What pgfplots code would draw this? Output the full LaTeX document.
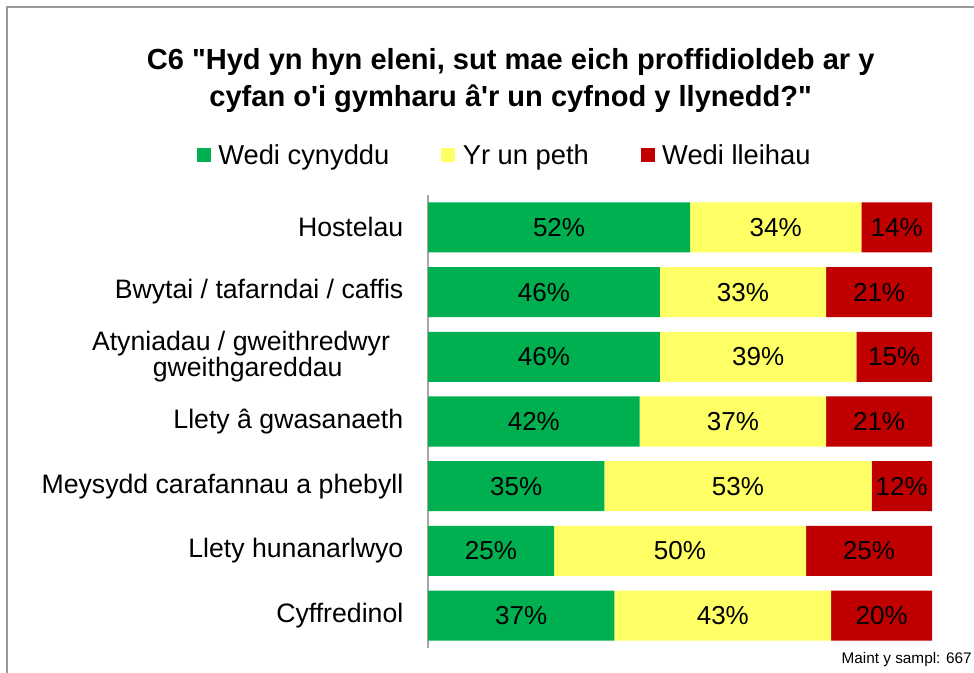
\documentclass[border=0pt]{standalone}
\usepackage{pgfplots}
\usepackage{pgfplotstable}
\pgfplotsset{compat=1.18}
\usepackage{fontspec}
\setmainfont{Liberation Sans}[Ligatures=TeXOff]
\definecolor{cgreen}{HTML}{00B050}
\definecolor{cyellow}{HTML}{FFFF66}
\definecolor{cred}{HTML}{C00000}
\pgfplotstableread{
idx up same down
0 52 34 14
1 46 33 21
2 46 39 15
3 42 37 21
4 35 53 12
5 25 50 25
6 37 43 20
}\data
\begin{document}
\begin{tikzpicture}
\useasboundingbox (0,0) rectangle (730.5pt,504.75pt);
\draw[gray!80, line width=0.9pt] (5.25pt,-1pt) -- (5.25pt,499.5pt) -- (731.5pt,499.5pt);
\node[align=center, font=\fontsize{21.8}{27.75}\selectfont\bfseries] at (383pt,444pt)
  {C6 "Hyd yn hyn eleni, sut mae eich proffidioldeb ar y\\cyfan o'i gymharu â'r un cyfnod y llynedd?"};
\node[anchor=east, inner sep=0pt, font=\fontsize{11.5}{13}\selectfont] at (729pt,9.75pt) {Maint y sampl: 667};
\begin{axis}[
  at={(321pt,18.75pt)}, anchor=south west,
  scale only axis, width=378pt, height=339.75pt,
  xbar stacked, bar width=37.5pt,
  xmin=0, xmax=100, ymin=-0.5, ymax=6.5, y dir=reverse,
  axis x line=none, axis y line*=left,
  y axis line style={gray!70, line width=0.8pt},
  ytick={0,...,6}, ytick style={draw=none},
  yticklabels={Hostelau, Bwytai / tafarndai / caffis, {Atyniadau / gweithredwyr\hspace*{10pt}\\gweithgareddau}, Llety â gwasanaeth, Meysydd carafannau a phebyll, Llety hunanarlwyo, Cyffredinol},
  yticklabel style={align=center, font=\fontsize{20}{19.2}\selectfont, xshift=-15pt},
  point meta=explicit symbolic,
  nodes near coords={\pgfplotspointmeta\%},
  every node near coord/.append style={anchor=center, font=\fontsize{19.5}{20}\selectfont, text=black},
  legend style={at={(0.153,1.088)}, anchor=center, draw=none, fill=none, legend columns=3,
    font=\fontsize{20.5}{22}\selectfont,
    /tikz/every even column/.append style={column sep=37pt},
    /tikz/every odd column/.append style={column sep=3.5pt}},
  legend image code/.code={\fill[#1] (0pt,-5pt) rectangle (10.5pt,5.5pt);},
]
\addplot[fill=cgreen, draw=none] table[x=up,y=idx,meta=up] {\data};
\addplot[fill=cyellow, draw=none] table[x=same,y=idx,meta=same] {\data};
\addplot[fill=cred, draw=none] table[x=down,y=idx,meta=down] {\data};
\legend{Wedi cynyddu, Yr un peth, Wedi lleihau}
\end{axis}
\end{tikzpicture}
\end{document}
